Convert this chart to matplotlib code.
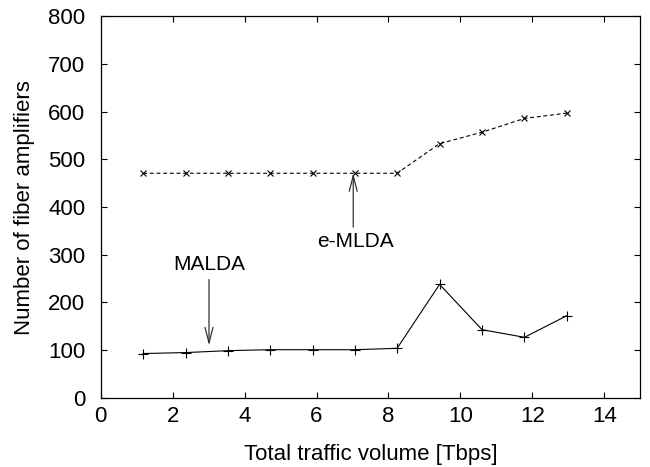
import matplotlib
matplotlib.use("Agg")
import matplotlib.pyplot as plt

plt.rcParams['font.family'] = ['Liberation Sans', 'DejaVu Sans']
plt.rcParams['font.size'] = 16

# traffic volume [Tbps]
traffic = [1.18, 2.36, 3.53, 4.71, 5.89, 7.07, 8.24, 9.42, 10.6, 11.78, 12.95]
malda = [93, 95, 99, 101, 101, 101, 104, 238, 143, 127, 172]
emlda = [471, 471, 471, 471, 471, 471, 471, 533, 557, 586, 597]

fig, ax = plt.subplots(figsize=(6.5, 4.67), dpi=100)
fig.subplots_adjust(left=0.155, right=0.985, top=0.965, bottom=0.148)

ax.plot(traffic, malda, color='black', lw=0.8, marker='+', ms=7, mew=0.8)
ax.plot(traffic, emlda, color='black', lw=0.8, ls=(0, (3.5, 2.5)), marker='x', ms=5, mew=0.8)

arrow = dict(arrowstyle='->,head_length=0.7,head_width=0.18', color='#333333', lw=0.9,
             shrinkA=0, shrinkB=0)
ax.annotate('', xy=(3.01, 110), xytext=(3.01, 248), arrowprops=arrow)
ax.text(3.01, 279, 'MALDA', ha='center', va='center', fontsize=15)
ax.annotate('', xy=(7.02, 471), xytext=(7.02, 358), arrowprops=arrow)
ax.text(7.08, 327, 'e-MLDA', ha='center', va='center', fontsize=15)

ax.set_xlim(0, 15)
ax.set_ylim(0, 800)
ax.set_xticks(range(0, 15, 2))
ax.set_yticks(range(0, 801, 100))
ax.tick_params(direction='in', top=True, right=True, length=4, width=0.8)
ax.tick_params(axis='x', pad=6)
ax.tick_params(axis='y', pad=11)
ax.set_xlabel('Total traffic volume [Tbps]', labelpad=12)
ax.set_ylabel('Number of fiber amplifiers', labelpad=9.5)
for s in ax.spines.values():
    s.set_linewidth(0.9)

fig.savefig('out.png', dpi=100)
